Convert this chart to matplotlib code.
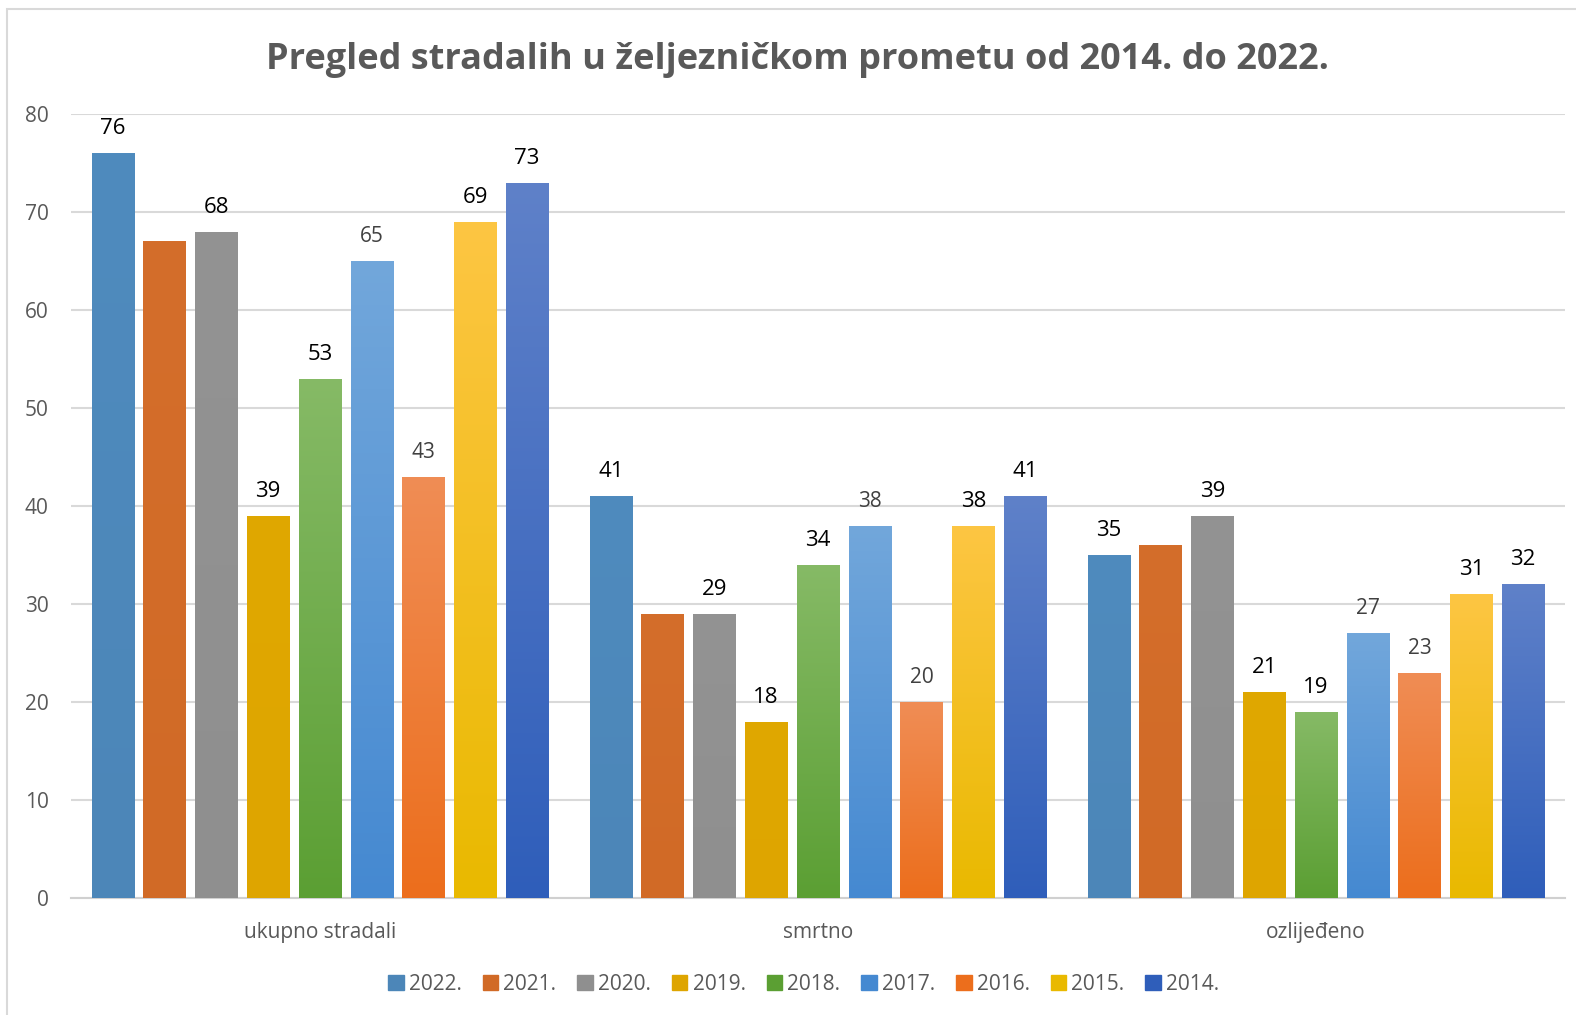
import numpy as np
import matplotlib.pyplot as plt
from matplotlib.colors import LinearSegmentedColormap
from matplotlib.patches import Rectangle

# data
categories = ['ukupno stradali', 'smrtno', 'ozlijeđeno']
years = ['2022.', '2021.', '2020.', '2019.', '2018.', '2017.', '2016.', '2015.', '2014.']
v2022 = [76, 41, 35]
v2021 = [67, 29, 36]
v2020 = [68, 29, 39]
v2019 = [39, 18, 21]
v2018 = [53, 34, 19]
v2017 = [65, 38, 27]
v2016 = [43, 20, 23]
v2015 = [69, 38, 31]
v2014 = [73, 41, 32]
series = [v2022, v2021, v2020, v2019, v2018, v2017, v2016, v2015, v2014]

# top / bottom colours of each series (Excel-like gradient)
tops = ['#4F8BBE', '#D46E2B', '#939393', '#E0A800', '#86BA66', '#72A7DB', '#F08D55', '#FDC643', '#5F81C9']
bottoms = ['#4C86B8', '#D16A26', '#8F8F8F', '#DEA500', '#5B9F33', '#4589D1', '#EC6E1C', '#E9B900', '#2F5EBA']
label_style = ['big', None, 'big', 'big', 'big', 'small', 'small', 'big', 'big']

plt.rcParams['font.family'] = ['Open Sans', 'DejaVu Sans']

fig = plt.figure(figsize=(15.76, 10.15), dpi=100)
ax = fig.add_axes([0.045, 0.1153, 0.948, 0.7724])

# chart frame
fig.patches.append(Rectangle((7 / 1576, -0.02), 1.05, 1.02 - 9 / 1015,
                             transform=fig.transFigure, fill=False,
                             edgecolor='#D9D9D9', linewidth=1.5))

x = np.arange(len(categories))
step = 0.104
width = 0.085

for j, vals in enumerate(series):
    cmap = LinearSegmentedColormap.from_list('g%d' % j, [bottoms[j], tops[j]])
    pos = x + (j - 4) * step
    bars = ax.bar(pos, vals, width, color=tops[j], label=years[j], zorder=3)
    for b in bars:
        b.set_facecolor('none')
        grad = np.linspace(0, 1, 256).reshape(-1, 1)
        im = ax.imshow(grad, cmap=cmap, origin='lower', aspect='auto', zorder=3,
                       extent=[b.get_x(), b.get_x() + b.get_width(), 0, b.get_height()])
        im.set_clip_path(b)
    if label_style[j] == 'big':
        for p, v in zip(pos, vals):
            ax.annotate(str(v), (p, v), xytext=(0, 10), textcoords='offset points',
                        ha='center', va='bottom', fontsize=16, color='black')
    elif label_style[j] == 'small':
        for p, v in zip(pos, vals):
            ax.annotate(str(v), (p, v), xytext=(0, 10), textcoords='offset points',
                        ha='center', va='bottom', fontsize=15, color='#404040')

ax.set_xlim(-0.5, 2.5)
ax.set_ylim(0, 80)
ax.set_yticks(range(0, 81, 10))
ax.set_xticks(x)
ax.set_xticklabels(categories)
ax.tick_params(axis='both', length=0, labelsize=15, colors='#595959')
ax.tick_params(axis='x', pad=17)
ax.tick_params(axis='y', pad=16)
ax.grid(axis='y', color='#D9D9D9', linewidth=1.5, zorder=0)
for s in ['top', 'right', 'left']:
    ax.spines[s].set_visible(False)
ax.spines['bottom'].set_color('#D0D0D0')
ax.spines['bottom'].set_linewidth(1.5)

fig.text(0.506, 0.941, 'Pregled stradalih u željezničkom prometu od 2014. do 2022.',
         ha='center', va='center', fontsize=26, fontweight='bold', color='#595959')

handles = [Rectangle((0, 0), 1, 1, color=bottoms[j]) for j in range(len(years))]
fig.legend(handles, years, loc='center', bbox_to_anchor=(0.51, 0.03), ncol=9,
           frameon=False, fontsize=15, handlelength=0.75, handleheight=0.75,
           handletextpad=0.25, columnspacing=1.0, labelcolor='#595959')

fig.savefig('out.png', dpi=100)
